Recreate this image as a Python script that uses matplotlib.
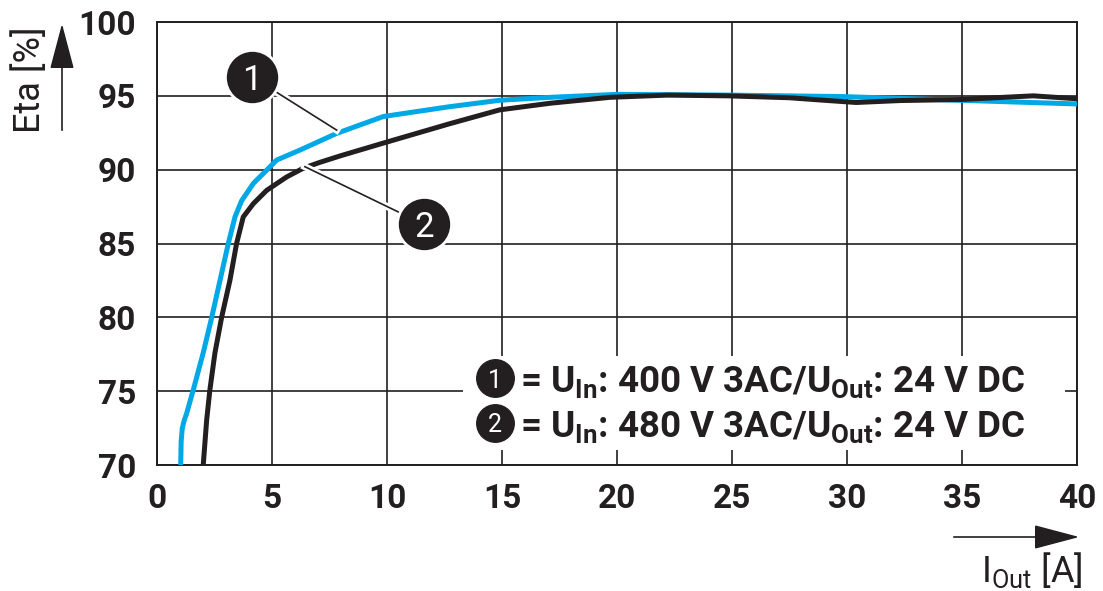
import numpy as np
import matplotlib
matplotlib.use("Agg")
import matplotlib.pyplot as plt
import matplotlib.patheffects as pe
from matplotlib.patches import Rectangle, FancyArrowPatch

plt.rcParams['font.family'] = ['Roboto', 'DejaVu Sans']
plt.rcParams['mathtext.fontset'] = 'custom'
plt.rcParams['mathtext.rm'] = 'Roboto'
plt.rcParams['mathtext.bf'] = 'Roboto:bold'
plt.rcParams['mathtext.it'] = 'Roboto:italic'

# curve 1: U_In 400 V 3AC
i_400 = [1.03, 1.05, 1.1, 1.18, 1.29, 1.58, 2.01, 2.38, 2.74, 3.1, 3.39, 3.68, 4.19, 4.77, 5.2, 6.22,
         7.8, 9.84, 12.7, 14.9, 17.1, 20.0, 24.8, 29.8, 34.9, 40.0]
eta_400 = [70.0, 71.6, 72.5, 73.0, 73.5, 75.1, 77.6, 80.0, 82.5, 85.0, 86.8, 87.9, 89.07, 89.97, 90.65, 91.33,
           92.45, 93.6, 94.26, 94.7, 94.9, 95.1, 95.05, 94.95, 94.7, 94.45]

# curve 2: U_In 480 V 3AC
i_480 = [2.01, 2.16, 2.3, 2.52, 2.81, 3.17, 3.46, 3.75, 4.19, 4.77, 5.63, 6.36, 7.09, 8.0,
         9.84, 12.7, 14.9, 17.1, 19.7, 22.2, 24.8, 27.5, 29.0, 30.4, 32.3, 34.9, 38.1, 40.0]
eta_480 = [70.0, 73.05, 75.1, 77.6, 80.0, 82.5, 85.0, 86.8, 87.7, 88.6, 89.5, 90.1, 90.5, 90.95,
           91.8, 93.1, 94.05, 94.5, 94.9, 95.05, 95.0, 94.87, 94.7, 94.55, 94.68, 94.75, 95.0, 94.8]

x_ticks = [0, 5, 10, 15, 20, 25, 30, 35, 40]
y_ticks = [70, 75, 80, 85, 90, 95, 100]
legend_labels = [r"= $\mathbf{U_{In}}$: 400 V 3AC/$\mathbf{U_{Out}}$: 24 V DC",
                 r"= $\mathbf{U_{In}}$: 480 V 3AC/$\mathbf{U_{Out}}$: 24 V DC"]

blue = '#00a8e6'
dark = '#231f20'

fig = plt.figure(figsize=(11.03, 5.91), dpi=100)
ax = fig.add_axes([157/1103, 1 - 465/591, 920/1103, 443/591])
ax.set_xlim(0, 40)
ax.set_ylim(70, 100)
ax.set_xticks(x_ticks)
ax.set_yticks(y_ticks)
ax.grid(True, color=dark, lw=1.2)
ax.set_axisbelow(True)
for s in ax.spines.values():
    s.set_color(dark)
    s.set_linewidth(1.4)
ax.tick_params(length=0, labelsize=24, colors=dark)
ax.tick_params(axis='x', pad=13)
ax.tick_params(axis='y', pad=15)
for lab in ax.get_xticklabels() + ax.get_yticklabels():
    lab.set_fontweight('bold')

ax.plot(i_400, eta_400, color=blue, lw=3.6, solid_capstyle='butt', solid_joinstyle='round', zorder=3)
ax.plot(i_480, eta_480, color=dark, lw=3.6, solid_capstyle='butt', solid_joinstyle='round', zorder=3)

# numbered callouts
halo = [pe.Stroke(linewidth=5, foreground='white'), pe.Normal()]
callouts = [((4.12, 96.3), (7.81, 92.68), '1'), ((11.6, 86.3), (6.43, 90.2), '2')]
for (cx, cy), (ex, ey), num in callouts:
    ax.plot([cx, ex], [cy, ey], color=dark, lw=1.2, zorder=4, path_effects=halo)
    ax.plot(cx, cy, 'o', ms=39, color=dark, mec='white', mew=2, zorder=5)
    ax.text(cx, cy, num, color='white', fontsize=25, ha='center', va='center_baseline', zorder=6)

# legend block
ax.add_patch(Rectangle((0.333, 0.034), 0.654, 0.212, transform=ax.transAxes,
                       facecolor='white', edgecolor='none', zorder=2))
for k, (yy, lab) in enumerate(zip([0.196, 0.095], legend_labels)):
    ax.plot(0.367, yy, 'o', ms=27, color=dark, transform=ax.transAxes, zorder=5)
    ax.text(0.367, yy, str(k + 1), color='white', fontsize=18, ha='center',
            va='center_baseline', transform=ax.transAxes, zorder=6)
    ax.text(0.395, yy, lab, fontsize=26.5, fontweight='bold', color=dark, ha='left',
            va='center_baseline', transform=ax.transAxes, zorder=6)

# axis labels with arrows
fig.text(30/1103, 1 - 80/591, 'Eta [%]', rotation=90, fontsize=26, color=dark,
         ha='center', va='center')
fig.add_artist(FancyArrowPatch((62/1103, 1 - 133/591), (62/1103, 1 - 21/591),
                               transform=fig.transFigure, arrowstyle='-|>,head_length=1.7,head_width=0.45',
                               mutation_scale=17, color=dark, lw=1.2))
fig.add_artist(FancyArrowPatch((951/1103, 1 - 537/591), (1082/1103, 1 - 537/591),
                               transform=fig.transFigure, arrowstyle='-|>,head_length=1.7,head_width=0.45',
                               mutation_scale=17, color=dark, lw=1.2))
fig.text(1083/1103, 1 - 570/591, r'I$_{\mathrm{Out}}$ [A]', fontsize=26, color=dark,
         ha='right', va='center')

fig.savefig('out.png', dpi=100)
